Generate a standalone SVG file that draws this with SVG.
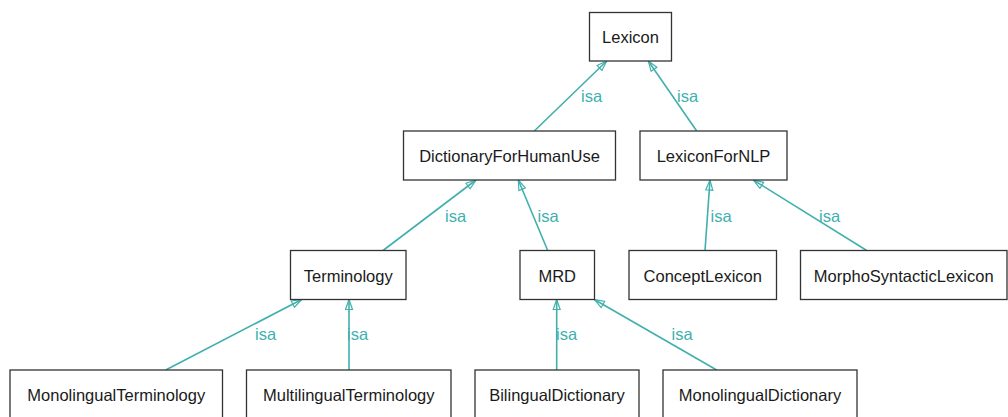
<svg xmlns="http://www.w3.org/2000/svg" width="1008" height="417" viewBox="0 0 1008 417">
<defs>
<style>
.node rect{fill:#fff;stroke:#333;stroke-width:1.3}
.node text{font-family:"Liberation Sans",Arial,sans-serif;font-size:16.5px;fill:#1a1a1a;text-anchor:middle}
.edges line{stroke:#40b0ae;stroke-width:1.6;marker-end:url(#isa)}
.edges text{font-family:"Liberation Sans",Arial,sans-serif;font-size:16.5px;fill:#40b0ae}
</style>
<marker id="isa" markerUnits="userSpaceOnUse" viewBox="-1 -1 13 9" markerWidth="13" markerHeight="9" refX="10" refY="3.5" orient="auto">
<path d="M0,0 L10,3.5 L0,7 z" fill="none" stroke="#40b0ae" stroke-width="1.2"/>
</marker>
</defs>
<rect width="1008" height="417" fill="#fff"/>
<g class="edges" id="connectors">
<line x1="534.3" y1="131" x2="606.7" y2="61"/>
<line x1="696.7" y1="131" x2="648.3" y2="61"/>
<line x1="383" y1="250.5" x2="476" y2="180"/>
<line x1="547.7" y1="250.5" x2="518.3" y2="180"/>
<line x1="705" y1="250.5" x2="710" y2="180"/>
<line x1="866.7" y1="250.5" x2="753.3" y2="180"/>
<line x1="165.7" y1="370" x2="301.7" y2="299.5"/>
<line x1="349" y1="370" x2="349" y2="299.5"/>
<line x1="556.7" y1="370" x2="556.7" y2="299.5"/>
<line x1="716.7" y1="370" x2="594.3" y2="299.5"/>
<text x="581" y="102">isa</text>
<text x="677" y="102">isa</text>
<text x="445" y="221.5">isa</text>
<text x="537.5" y="221.5">isa</text>
<text x="710.5" y="221.5">isa</text>
<text x="819" y="221.5">isa</text>
<text x="255" y="340">isa</text>
<text x="347" y="340">isa</text>
<text x="556" y="340">isa</text>
<text x="671.5" y="340">isa</text>
</g>
<g class="node" id="Lexicon"><rect x="589.5" y="12.5" width="82" height="48.5"/><text x="630.5" y="43.3">Lexicon</text></g>
<g class="node" id="DictionaryForHumanUse"><rect x="403.5" y="131" width="212" height="49"/><text x="509.5" y="162">DictionaryForHumanUse</text></g>
<g class="node" id="LexiconForNLP"><rect x="640" y="131" width="147" height="49"/><text x="713.5" y="162">LexiconForNLP</text></g>
<g class="node" id="Terminology"><rect x="290.5" y="250.5" width="115.5" height="49"/><text x="348.25" y="281.5">Terminology</text></g>
<g class="node" id="MRD"><rect x="520" y="250.5" width="74.5" height="49"/><text x="557.25" y="281.5">MRD</text></g>
<g class="node" id="ConceptLexicon"><rect x="629" y="250.5" width="147.5" height="49"/><text x="702.75" y="281.5">ConceptLexicon</text></g>
<g class="node" id="MorphoSyntacticLexicon"><rect x="800.5" y="250.5" width="206.5" height="49"/><text x="903.75" y="281.5">MorphoSyntacticLexicon</text></g>
<g class="node" id="MonolingualTerminology"><rect x="10" y="370" width="212.5" height="49"/><text x="116.25" y="401">MonolingualTerminology</text></g>
<g class="node" id="MultilingualTerminology"><rect x="246.5" y="370" width="204.5" height="49"/><text x="348.75" y="401">MultilingualTerminology</text></g>
<g class="node" id="BilingualDictionary"><rect x="475" y="370" width="164" height="49"/><text x="557" y="401">BilingualDictionary</text></g>
<g class="node" id="MonolingualDictionary"><rect x="663" y="370" width="194" height="49"/><text x="760" y="401">MonolingualDictionary</text></g>
</svg>
